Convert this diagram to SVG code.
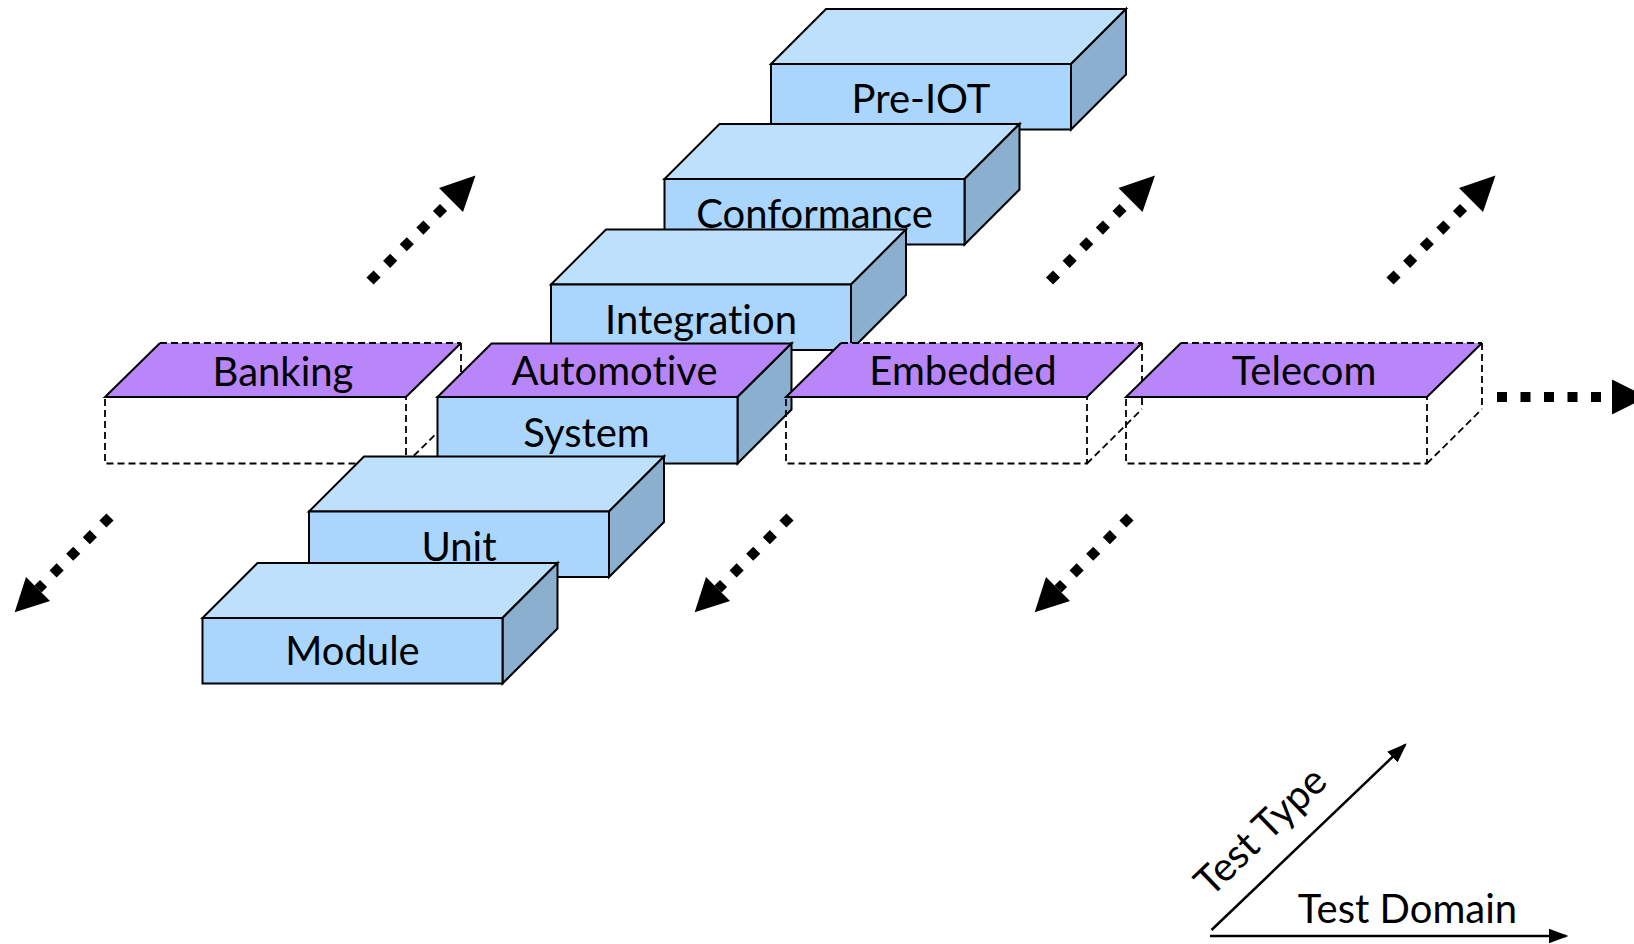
<svg xmlns="http://www.w3.org/2000/svg" width="1634" height="944" viewBox="0 0 1634 944">
<defs>
<style>
.front{fill:#aad6fd;stroke:#000;stroke-width:2}
.top{fill:#bde0fd;stroke:#000;stroke-width:2;stroke-linejoin:miter}
.side{fill:#8aafcf;stroke:#000;stroke-width:2}
.ptop{fill:#b886f9;stroke:none}
.pedge{fill:none;stroke:#000;stroke-width:2}
.dash{fill:none;stroke:#000;stroke-width:1.8;stroke-dasharray:7 4}
.lbl{font-family:Lato,"Open Sans",sans-serif;font-size:40px;fill:#000;text-anchor:middle;font-variant-ligatures:none;font-feature-settings:"liga" 0}
.dots{fill:none;stroke:#000;stroke-width:10;stroke-dasharray:10 13.5}
.axis{fill:none;stroke:#000;stroke-width:2.5}
</style>
<marker id="ah" markerWidth="8" markerHeight="8" refX="7" refY="4" orient="auto" markerUnits="strokeWidth">
<path d="M0,1 L8,4 L0,7 Z" fill="#000"/>
</marker>
<g id="upArrow">
<line class="dots" x1="370" y1="281" x2="451" y2="200"/>
<polygon points="439,188 463,212 475.5,175.5" fill="#000"/>
</g>
<g id="downArrow">
<line class="dots" x1="110" y1="517" x2="38" y2="589"/>
<polygon points="26,577 50,601 14.7,612.3" fill="#000"/>
</g>
</defs>
<rect width="1634" height="944" fill="#fff"/>
<g id="connectors">
<use href="#upArrow"/>
<use href="#upArrow" transform="translate(679.5,0)"/>
<use href="#upArrow" transform="translate(1020,0)"/>
<use href="#downArrow"/>
<use href="#downArrow" transform="translate(680,0)"/>
<use href="#downArrow" transform="translate(1020,0)"/>
<line class="dots" x1="1497" y1="397" x2="1612" y2="397"/>
<polygon points="1612,379.5 1612,414.5 1647,397" fill="#000"/>
</g>
<g id="preiot" transform="translate(771,64)">
<polygon class="top" points="0,0 55,-55 355,-55 300,0"/>
<polygon class="side" points="300,0 355,-55 355,10.5 300,65.5"/>
<rect class="front" x="0" y="0" width="300" height="65.5"/>
<text class="lbl" x="150" y="49">Pre-IOT</text>
</g>
<g id="conformance" transform="translate(664.5,179)">
<polygon class="top" points="0,0 55,-55 355,-55 300,0"/>
<polygon class="side" points="300,0 355,-55 355,10.5 300,65.5"/>
<rect class="front" x="0" y="0" width="300" height="65.5"/>
<text class="lbl" x="150" y="49">Conformance</text>
</g>
<g id="integration" transform="translate(551,284.5)">
<polygon class="top" points="0,0 55,-55 355,-55 300,0"/>
<polygon class="side" points="300,0 355,-55 355,10.5 300,65.5"/>
<rect class="front" x="0" y="0" width="300" height="65.5"/>
<text class="lbl" x="150" y="49.5">Integration</text>
</g>
<g id="banking" transform="translate(105,397)">
<rect class="dash" x="0" y="0" width="301" height="66.5"/>
<line class="dash" x1="356" y1="-54" x2="356" y2="12"/>
<line class="dash" x1="301" y1="66.5" x2="356" y2="12"/>
<polygon class="ptop" points="0,0 55,-54 356,-54 301,0"/>
<polyline class="pedge" points="55,-54 0,0 301,0 356,-54"/>
<line class="dash" x1="55" y1="-54" x2="356" y2="-54"/>
<text class="lbl" x="178" y="-11">Banking</text>
</g>
<g id="automotive-system" transform="translate(437.5,397)">
<polygon class="top" style="fill:#b886f9" points="0,0 54,-53.5 354,-53.5 300,0"/>
<polygon class="side" points="300,0 354,-53.5 354,12.5 300,66.5"/>
<rect class="front" x="0" y="0" width="300" height="66.5"/>
<text class="lbl" x="177" y="-12">Automotive</text>
<text class="lbl" x="149" y="49.5">System</text>
</g>
<g id="embedded" transform="translate(786,397)">
<rect class="dash" x="0" y="0" width="301" height="66.5"/>
<line class="dash" x1="356" y1="-54" x2="356" y2="12"/>
<line class="dash" x1="301" y1="66.5" x2="356" y2="12"/>
<polygon class="ptop" points="0,0 55,-54 356,-54 301,0"/>
<polyline class="pedge" points="55,-54 0,0 301,0 356,-54"/>
<line class="dash" x1="55" y1="-54" x2="356" y2="-54"/>
<text class="lbl" x="177" y="-12">Embedded</text>
</g>
<g id="telecom" transform="translate(1126,397)">
<rect class="dash" x="0" y="0" width="301" height="66.5"/>
<line class="dash" x1="356" y1="-54" x2="356" y2="12"/>
<line class="dash" x1="301" y1="66.5" x2="356" y2="12"/>
<polygon class="ptop" points="0,0 55,-54 356,-54 301,0"/>
<polyline class="pedge" points="55,-54 0,0 301,0 356,-54"/>
<line class="dash" x1="55" y1="-54" x2="356" y2="-54"/>
<text class="lbl" x="178" y="-12">Telecom</text>
</g>
<g id="unit" transform="translate(309,511.5)">
<polygon class="top" points="0,0 55,-55 355,-55 300,0"/>
<polygon class="side" points="300,0 355,-55 355,10.5 300,65.5"/>
<rect class="front" x="0" y="0" width="300" height="65.5"/>
<text class="lbl" x="150" y="49.5">Unit</text>
</g>
<g id="module" transform="translate(202.5,618)">
<polygon class="top" points="0,0 55,-55 355,-55 300,0"/>
<polygon class="side" points="300,0 355,-55 355,10.5 300,65.5"/>
<rect class="front" x="0" y="0" width="300" height="65.5"/>
<text class="lbl" x="150" y="47">Module</text>
</g>
<g id="axes">
<line class="axis" x1="1210" y1="936" x2="1566" y2="936" marker-end="url(#ah)"/>
<line class="axis" x1="1211.5" y1="930" x2="1405" y2="745" marker-end="url(#ah)"/>
<text class="lbl" x="1407.5" y="923">Test Domain</text>
<text class="lbl" transform="translate(1270,841) rotate(-44)" x="0" y="0">Test Type</text>
</g>
</svg>
